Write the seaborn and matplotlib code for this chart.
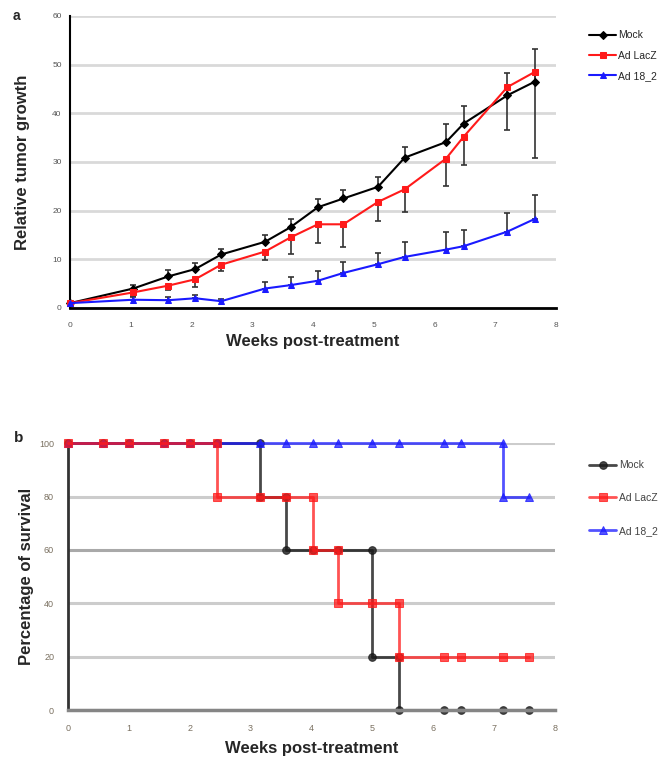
import numpy as np
import pandas as pd
import matplotlib
matplotlib.use("Agg")
import matplotlib.pyplot as plt
import seaborn as sns

# panel a: relative tumor growth
weeks_a = [0, 1.04, 1.62, 2.06, 2.49, 3.21, 3.63, 4.08, 4.50, 5.07, 5.51, 6.19, 6.48, 7.20, 7.65]
mock_growth = [1.0, 4.0, 6.5, 8.0, 11.0, 13.6, 16.6, 20.7, 22.5, 24.9, 30.9, 34.1, 37.9, 43.7, 46.5]
mock_err = [0.3, 0.8, 1.3, 1.3, 1.2, 1.4, 1.7, 1.6, 1.8, 2.1, 2.1, 3.8, 3.6, 4.6, 6.7]
lacz_growth = [1.0, 3.2, 4.6, 5.9, 8.9, 11.6, 14.5, 17.2, 17.2, 21.8, 24.4, 30.7, 35.2, 45.4, 48.5]
lacz_err = [0.3, 0.8, 1.0, 1.5, 1.2, 1.7, 3.4, 3.9, 4.6, 3.9, 4.6, 5.7, 5.8, 8.9, 17.6]
ad18_growth = [1.0, 1.7, 1.6, 2.0, 1.4, 4.0, 4.7, 5.6, 7.2, 9.0, 10.5, 12.0, 12.7, 15.7, 18.3]
ad18_err = [0.2, 0.5, 0.6, 0.7, 0.5, 1.3, 1.7, 2.1, 2.3, 2.2, 3.1, 3.7, 3.4, 3.9, 5.0]

# panel b: survival
weeks_b = [0, 0.58, 1.0, 1.58, 2.0, 2.45, 3.16, 3.58, 4.02, 4.43, 4.99, 5.44, 6.18, 6.45, 7.15, 7.58]
mock_surv = [100, 100, 100, 100, 100, 100, 80, 60, 60, 60, 20, 0, 0, 0, 0, 0]
lacz_surv = [100, 100, 100, 100, 100, 80, 80, 80, 60, 40, 40, 20, 20, 20, 20, 20]
ad18_surv = [100, 100, 100, 100, 100, 100, 100, 100, 100, 100, 100, 100, 100, 100, 80, 80]

labels = ["Mock", "Ad LacZ", "Ad 18_2"]
y_ticks_a = [0, 10, 20, 30, 40, 50, 60]
y_ticks_b = [0, 20, 40, 60, 80, 100]
x_ticks = [0, 1, 2, 3, 4, 5, 6, 7, 8]


def step_points(t, s):
    # duplicate the time point at every drop so the line falls vertically
    xs, ys = [t[0]], [s[0]]
    for i in range(1, len(t)):
        if s[i] != s[i - 1]:
            xs.append(t[i])
            ys.append(s[i - 1])
        xs.append(t[i])
        ys.append(s[i])
    return xs, ys


sns.set_style("white")
plt.rcParams["font.family"] = ["Liberation Sans", "DejaVu Sans"]

W, H = 665, 767
fig = plt.figure(figsize=(W / 100, H / 100), dpi=100)

# ---------------- panel a ----------------
ax = fig.add_axes([70 / W, 1 - 308 / H, 486 / W, 292 / H])

series_a = [
    (mock_growth, mock_err, "black", "D", 4.2, "plus"),
    (lacz_growth, lacz_err, "#ff1a1a", "s", 5, "minus"),
    (ad18_growth, ad18_err, "#1a1aff", "^", 5, "plus"),
]
for (vals, err, col, mk, ms, side) in series_a:
    zero = np.zeros(len(err))
    yerr = [zero, err] if side == "plus" else [err, zero]
    ax.errorbar(weeks_a, vals, yerr=yerr, fmt="none", ecolor="#333333",
                elinewidth=1.2, capsize=2, capthick=1.2, zorder=2)

handles_a = []
for (vals, err, col, mk, ms, side), lab in zip(series_a, labels):
    df = pd.DataFrame({"week": weeks_a, "value": vals})
    sns.lineplot(data=df, x="week", y="value", color=col, marker=mk,
                 markersize=ms, markeredgecolor=col, linewidth=1.5,
                 estimator=None, ax=ax, zorder=3, clip_on=False)
    handles_a.append(ax.lines[-1])

ax.set_xlim(0, 8)
ax.set_ylim(0, 60)
ax.set_xticks(x_ticks)
ax.set_yticks(y_ticks_a)
ax.yaxis.grid(True, color="#d9d9d9", linewidth=2)
ax.set_axisbelow(True)
for s in ["top", "right"]:
    ax.spines[s].set_visible(False)
ax.spines["bottom"].set_linewidth(2)
ax.spines["bottom"].set_color("black")
ax.spines["left"].set_linewidth(1.5)
ax.spines["left"].set_color("black")
ax.tick_params(axis="both", direction="inout", length=4, width=1,
               labelsize=6, labelcolor="#555555", color="black")
ax.tick_params(axis="x", pad=8)
ax.tick_params(axis="y", pad=4)
ax.set_xlabel("Weeks post-treatment", fontsize=12, fontweight="bold", labelpad=4)
ax.set_ylabel("Relative tumor growth", fontsize=12, fontweight="bold", labelpad=16)
ax.legend(handles_a, labels, loc="upper left", bbox_to_anchor=(584 / W, 1 - 25 / H),
          bbox_transform=fig.transFigure, frameon=False, fontsize=7.5,
          handlelength=2.6, handletextpad=0.2, labelspacing=1.0, borderpad=0)
fig.text(13 / W, 1 - 16 / H, "a", fontsize=10, fontweight="bold", va="center")

# ---------------- panel b ----------------
bx = fig.add_axes([68 / W, 1 - 710 / H, 487 / W, 266.7 / H])

series_b = [
    (mock_surv, "#1a1a1a", "o", 0.8, 2),
    (ad18_surv, "#1a1aff", "^", 0.75, 3),
    (lacz_surv, "#ff1a1a", "s", 0.75, 4),
]
handles_b = {}
for (surv, col, mk, alpha, z), lab in zip(series_b, ["Mock", "Ad 18_2", "Ad LacZ"]):
    xs, ys = step_points(weeks_b, surv)
    sns.lineplot(x=xs, y=ys, sort=False, estimator=None, color=col, alpha=alpha,
                 marker=mk, markersize=5.5, markeredgecolor=col, linewidth=2,
                 ax=bx, zorder=z, clip_on=False)
    handles_b[lab] = bx.lines[-1]

bx.set_xlim(0, 8)
bx.set_ylim(0, 100)
bx.set_xticks(x_ticks)
bx.set_yticks(y_ticks_b)
bx.yaxis.grid(True, color="#cccccc", linewidth=2.2)
gl = bx.get_ygridlines()
gl[3].set_color("#a9a9a9")
bx.set_axisbelow(True)
for s in ["top", "right"]:
    bx.spines[s].set_visible(False)
bx.spines["bottom"].set_linewidth(2.5)
bx.spines["bottom"].set_color("#858585")
bx.spines["left"].set_linewidth(2)
bx.spines["left"].set_color("#333333")
bx.tick_params(axis="both", direction="out", length=2, width=1.5,
               labelsize=6.5, labelcolor="#7a7060", color="#333333", pad=8)
bx.set_xlabel("Weeks post-treatment", fontsize=12, fontweight="bold", labelpad=6)
bx.set_ylabel("Percentage of survival", fontsize=12, fontweight="bold", labelpad=4)
bx.legend([handles_b[l] for l in labels], labels, loc="upper left",
          bbox_to_anchor=(584 / W, 1 - 455 / H), bbox_transform=fig.transFigure,
          frameon=False, fontsize=7.5, handlelength=2.6, handletextpad=0.3,
          labelspacing=2.2, borderpad=0, labelcolor="#444444")
fig.text(14 / W, 1 - 438 / H, "b", fontsize=11, fontweight="bold", va="center")

fig.savefig("out.png", dpi=100)
plt.close(fig)
